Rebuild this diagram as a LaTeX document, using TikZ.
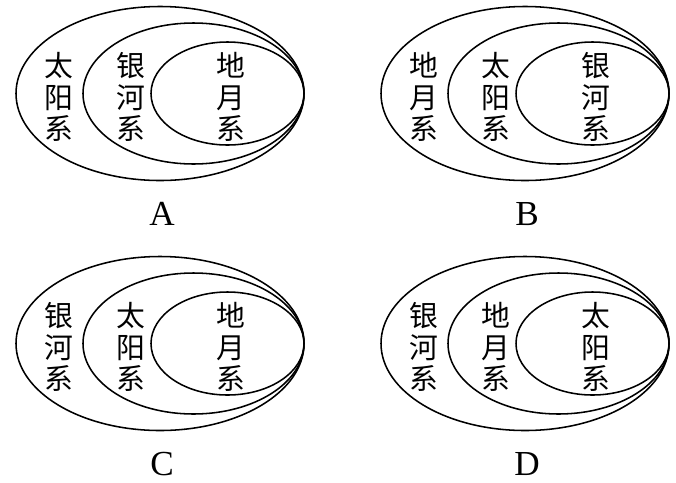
\documentclass[tikz,border=0pt]{standalone}
\usepackage{fontspec}
\newfontfamily\cjk{Noto Sans CJK SC}
\newfontfamily\lettfont{Liberation Serif}
\tikzset{
  orbit/.style={line width=1.1pt},
  sysname/.style={font=\cjk\fontsize{20.5}{22.5}\selectfont,align=center,inner sep=0pt},
  choice/.style={font=\lettfont\fontsize{25}{30}\selectfont,inner sep=0pt}
}
\begin{document}
\begin{tikzpicture}[x=0.025cm,y=-0.025cm]
\useasboundingbox (0,0) rectangle (676,482);
% four answer panels: shift, letter, outer / middle / inner system
\foreach \dx/\dy/\opt/\sa/\sb/\sc in {
    0/0/A/{太\\阳\\系}/{银\\河\\系}/{地\\月\\系},
    365/0/B/{地\\月\\系}/{太\\阳\\系}/{银\\河\\系},
    0/250/C/{银\\河\\系}/{太\\阳\\系}/{地\\月\\系},
    365/250/D/{银\\河\\系}/{地\\月\\系}/{太\\阳\\系}}{
  \begin{scope}[shift={(\dx,\dy)}]
    \draw[orbit] (160,93.5) ellipse [x radius=144, y radius=87];
    \draw[orbit] (193.5,93.5) ellipse [x radius=110.5, y radius=70.5];
    \draw[orbit] (227.5,93.5) ellipse [x radius=76.5, y radius=51.5];
    \node[sysname] (big\opt) at (59,97) {\sa};
    \node[sysname] (mid\opt) at (131,97) {\sb};
    \node[sysname] (small\opt) at (231,97) {\sc};
    \node[choice] (lab\opt) at (162,214) {\opt};
  \end{scope}
}
\end{tikzpicture}
\end{document}
